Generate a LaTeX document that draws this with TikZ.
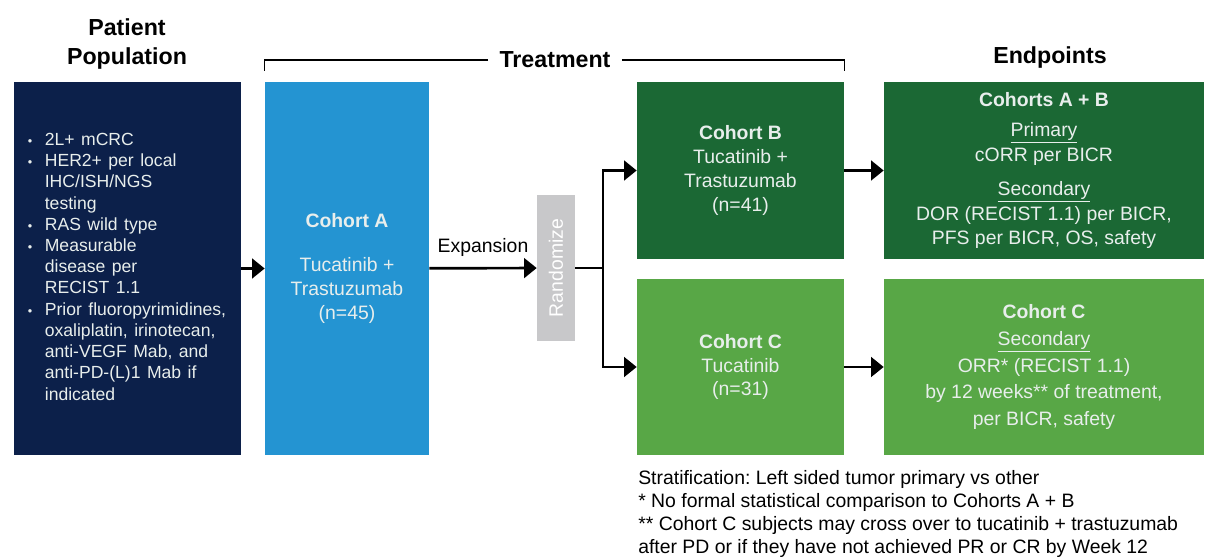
\documentclass[tikz,border=0pt]{standalone}
\usepackage{fontspec}
\setmainfont{Liberation Sans}
\usepackage{graphicx}
\usetikzlibrary{arrows.meta,calc}
\frenchspacing

\definecolor{popnavy}{RGB}{12,32,74}
\definecolor{cohortblue}{RGB}{36,148,210}
\definecolor{darkgreen}{RGB}{27,104,52}
\definecolor{lightgreen}{RGB}{88,167,70}
\definecolor{randgray}{RGB}{200,200,202}
\definecolor{paletext}{RGB}{232,238,236}

\tikzset{
  box/.style={draw=none, inner sep=0pt, align=center, text=paletext,
    font=\fontsize{13.8}{17}\selectfont},
  arr/.style={line width=1.9pt, -{Triangle[length=9pt,width=14pt]}},
  heading/.style={font=\fontsize{16.5}{20}\selectfont\bfseries, align=center},
}

\begin{document}
\begin{tikzpicture}[x=0.025cm, y=-0.025cm]
	\useasboundingbox (0,0) rectangle (1205,557);

	% Column headings
	\node[heading] (pophead) at (127,44) {Patient\\Population};
	\node[heading, fill=white, inner xsep=8pt] (treathead) at (555,60) {Treatment};
	\node[heading] (endhead) at (1050,58) {Endpoints};

	% Patient population
	\node[box, fill=popnavy, align=left, minimum height=9.325cm, text width=4.975cm, inner xsep=0.35cm] (pop) at (127.5,268.5) {%
		\fontsize{12.5}{15.1}\selectfont
		\begin{tabular}{@{}p{12pt}@{}l@{}}
		{\small\textbullet} & 2L+ mCRC\\
		{\small\textbullet} & HER2+ per local\\
		 & IHC/ISH/NGS\\
		 & testing\\
		{\small\textbullet} & RAS wild type\\
		{\small\textbullet} & Measurable\\
		 & disease per\\
		 & RECIST 1.1\\
		{\small\textbullet} & Prior fluoropyrimidines,\\
		 & oxaliplatin, irinotecan,\\
		 & anti-VEGF Mab, and\\
		 & anti-PD-(L)1 Mab if\\
		 & indicated
		\end{tabular}};

	% Treatment
	\node[box, fill=cohortblue, minimum width=4.1cm, minimum height=9.325cm] (cohA) at (347,268.5)
		{\textbf{Cohort A}\\[14pt]Tucatinib +\\Trastuzumab\\(n=45)};
	\node[box, fill=randgray, text=white, minimum width=0.95cm, minimum height=3.65cm] (rand) at (556,268)
		{\rotatebox{90}{Randomize}};
	\node[box, fill=darkgreen, minimum width=5.175cm, minimum height=4.425cm] (cohB) at (740.5,170.5)
		{\textbf{Cohort B}\\Tucatinib +\\Trastuzumab\\(n=41)};
	\node[box, fill=lightgreen, minimum width=5.175cm, minimum height=4.4cm] (cohC) at (740.5,367)
		{\textbf{Cohort C}\\Tucatinib\\(n=31)};

	% Endpoints
	\node[box, fill=darkgreen, minimum width=8cm, minimum height=4.425cm] (endAB) at (1044,170.5)
		{\textbf{Cohorts A + B}\\[4pt]\underline{Primary}\\[1pt]cORR per BICR\\[7pt]\underline{Secondary}\\[1pt]DOR (RECIST 1.1) per BICR,\\PFS per BICR, OS, safety};
	\node[box, fill=lightgreen, minimum width=8cm, minimum height=4.4cm] (endC) at (1044,367)
		{\textbf{Cohort C}\\[2pt]\underline{Secondary}\\[2pt]ORR* (RECIST 1.1)\\[2pt]by 12 weeks** of treatment,\\[2pt]per BICR, safety};

	% Treatment bracket
	\draw[line width=1pt] (treathead.west) -| ($(cohA.north west)+(0,-11)$);
	\draw[line width=1pt] (treathead.east) -| ($(cohB.north east)+(0,-11)$);

	% Flow
	\coordinate (split) at (603,268);
	\draw[arr] (pop) -- (cohA);
	\draw[arr] (cohA) -- node[above=4pt, font=\fontsize{13.8}{17}\selectfont] (explabel) {Expansion} (rand);
	\draw[line width=1.9pt] (rand) -- (split);
	\draw[arr] (split) |- (cohB);
	\draw[arr] (split) |- (cohC);
	\draw[arr] (cohB) -- (endAB);
	\draw[arr] (cohC) -- (endC);

	% Footnotes
	\node[anchor=north west, align=left, inner sep=0pt, font=\fontsize{13.8}{16.5}\selectfont] (notes) at (638,470)
		{Stratification: Left sided tumor primary vs other\\{}* No formal statistical comparison to Cohorts A + B\\{}** Cohort C subjects may cross over to tucatinib + trastuzumab\\after PD or if they have not achieved PR or CR by Week 12};
\end{tikzpicture}
\end{document}
